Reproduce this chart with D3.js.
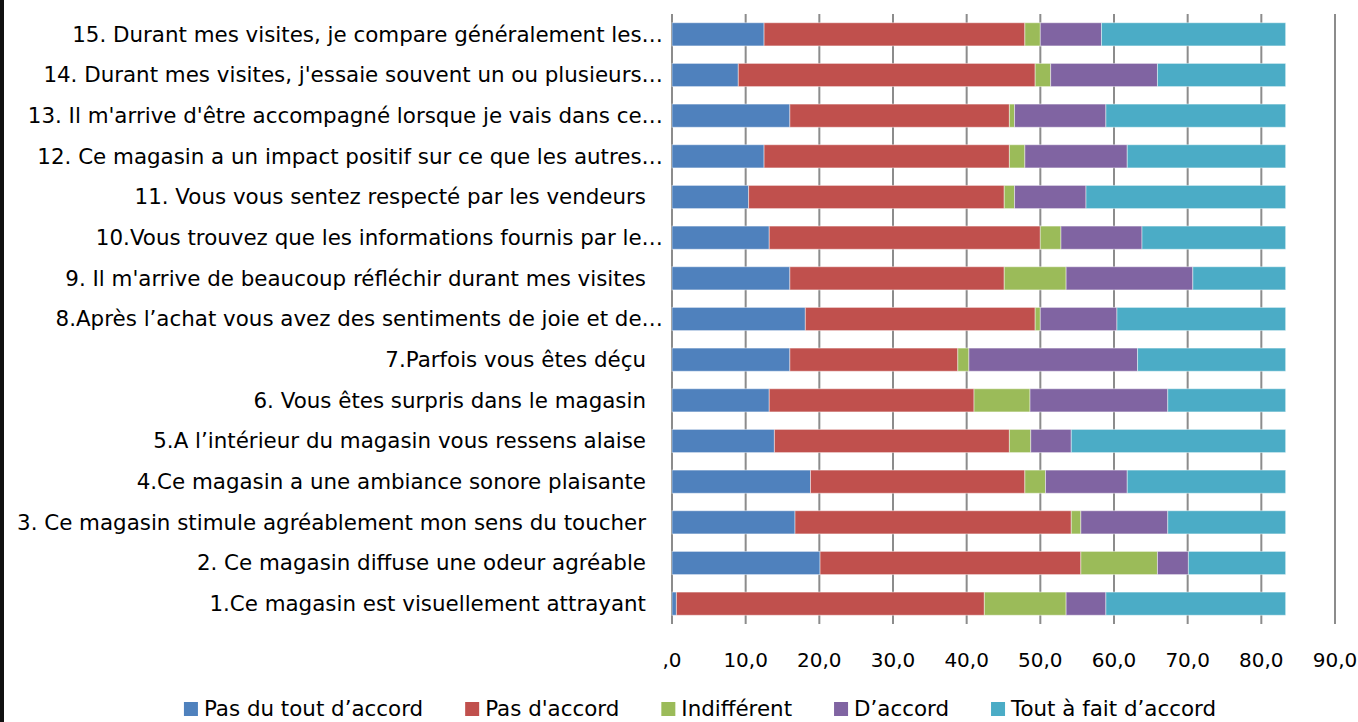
<!DOCTYPE html>
<html>
<head>
<meta charset="utf-8">
<script src="https://cdn.jsdelivr.net/npm/d3@7"></script>
<style>
  body { margin: 0; background: #fff; }
  svg text { font-family: "DejaVu Sans", sans-serif; fill: #000; }
</style>
</head>
<body>
<div id="chart"></div>
<script>
// questions, bottom (1) to top (15)
var categories = [
    "1.Ce magasin est visuellement attrayant",
    "2. Ce magasin diffuse une odeur agréable",
    "3. Ce magasin stimule agréablement mon sens du toucher",
    "4.Ce magasin a une ambiance sonore plaisante",
    "5.A l’intérieur du magasin vous ressens alaise",
    "6. Vous êtes surpris dans le magasin",
    "7.Parfois vous êtes déçu",
    "8.Après l’achat vous avez des sentiments de joie et de…",
    "9. Il m'arrive de beaucoup réfléchir durant mes visites",
    "10.Vous trouvez que les informations fournis par le…",
    "11. Vous vous sentez respecté par les vendeurs",
    "12. Ce magasin a un impact positif sur ce que les autres…",
    "13. Il m'arrive d'être accompagné lorsque je vais dans ce…",
    "14. Durant mes visites, j'essaie souvent un ou plusieurs…",
    "15. Durant mes visites, je compare généralement les…"
];

var seriesNames = ["Pas du tout d’accord", "Pas d'accord", "Indifférent", "D’accord", "Tout à fait d’accord"];
var seriesColors = ["#4F81BD", "#C0504D", "#9BBB59", "#8064A2", "#4BACC6"];

// values per question, same order as categories
var pasDuTout   = [0.6, 20.1, 16.7, 18.8, 13.9, 13.2, 16.0, 18.1, 16.0, 13.2, 10.4, 12.5, 16.0, 9.0, 12.5];
var pasDAccord  = [41.8, 35.4, 37.5, 29.1, 31.9, 27.8, 22.8, 31.2, 29.1, 36.8, 34.7, 33.3, 29.8, 40.3, 35.4];
var indifferent = [11.1, 10.4, 1.3, 2.8, 2.9, 7.6, 1.5, 0.7, 8.4, 2.8, 1.4, 2.1, 0.7, 2.1, 2.1];
var dAccord     = [5.4, 4.2, 11.8, 11.1, 5.5, 18.7, 22.9, 10.4, 17.2, 11.0, 9.7, 13.9, 12.4, 14.5, 8.3];
var toutAFait   = [24.4, 13.2, 16.0, 21.5, 29.1, 16.0, 20.1, 22.9, 12.6, 19.5, 27.1, 21.5, 24.4, 17.4, 25.0];

var tickValues = [0, 10, 20, 30, 40, 50, 60, 70, 80, 90];
var tickLabels = [",0", "10,0", "20,0", "30,0", "40,0", "50,0", "60,0", "70,0", "80,0", "90,0"];

var width = 1358, height = 722;
var series = [pasDuTout, pasDAccord, indifferent, dAccord, toutAFait];

var rows = categories.map(function(c, i) {
    var r = { label: c };
    seriesNames.forEach(function(s, j) { r[s] = series[j][i]; });
    return r;
});

var svg = d3.select('#chart').append('svg')
    .attr('width', width)
    .attr('height', height);

// dark strip on the left edge
svg.append('rect').attr('x', 0).attr('y', 0).attr('width', 4).attr('height', height).attr('fill', '#111');

var x = d3.scaleLinear().domain([0, 90]).range([672, 1335]);
var y = d3.scaleBand()
    .domain(categories.slice().reverse())
    .range([14, 624])
    .paddingInner(0.43)
    .paddingOuter(0.215);

// gridlines
svg.append('g').selectAll('line')
    .data(tickValues)
    .enter().append('line')
    .attr('x1', function(d) { return x(d); })
    .attr('x2', function(d) { return x(d); })
    .attr('y1', 14)
    .attr('y2', 624)
    .attr('stroke', '#8c8c8c')
    .attr('stroke-width', 2);

var stack = d3.stack().keys(seriesNames);
var layers = stack(rows);

svg.append('g').selectAll('g')
    .data(layers)
    .enter().append('g')
    .attr('fill', function(d, i) { return seriesColors[i]; })
    .selectAll('rect')
    .data(function(d) { return d; })
    .enter().append('rect')
    .attr('x', function(d) { return x(d[0]); })
    .attr('width', function(d) { return x(d[1]) - x(d[0]); })
    .attr('y', function(d) { return y(d.data.label); })
    .attr('height', y.bandwidth())
    .attr('stroke', 'rgba(255,255,255,0.45)')
    .attr('stroke-width', 1);

// category labels (full labels keep a trailing gap, cut ones run to the edge)
svg.append('g').selectAll('text')
    .data(categories)
    .enter().append('text')
    .attr('x', function(d) { return d.endsWith('…') ? 663 : 646; })
    .attr('y', function(d) { return y(d) + y.bandwidth() / 2; })
    .attr('dy', '0.35em')
    .attr('text-anchor', 'end')
    .style('font-size', '21.4px')
    .text(function(d) { return d; });

// x tick labels
svg.append('g').selectAll('text')
    .data(tickValues)
    .enter().append('text')
    .attr('x', function(d) { return x(d); })
    .attr('y', 660)
    .attr('dy', '0.35em')
    .attr('text-anchor', 'middle')
    .style('font-size', '20px')
    .text(function(d, i) { return tickLabels[i]; });

// legend
var legend = svg.append('g');
var lx = 0;
var items = legend.selectAll('g')
    .data(seriesNames)
    .enter().append('g');
items.append('rect')
    .attr('width', 14).attr('height', 14)
    .attr('y', 702)
    .attr('fill', function(d, i) { return seriesColors[i]; });
items.append('text')
    .attr('x', 20)
    .attr('y', 709)
    .attr('dy', '0.35em')
    .style('font-size', '21.4px')
    .text(function(d) { return d; });
items.each(function() {
    var g = d3.select(this);
    g.attr('transform', 'translate(' + lx + ',0)');
    lx += 20 + g.select('text').node().getComputedTextLength() + 42;
});
lx -= 42;
legend.attr('transform', 'translate(' + (700 - lx / 2) + ',0)');
</script>
</body>
</html>
